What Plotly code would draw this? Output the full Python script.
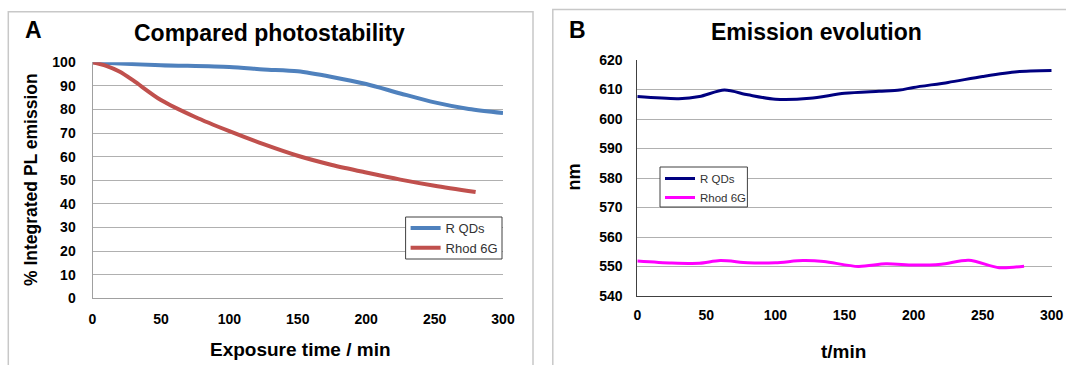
import plotly.graph_objects as go

# Panel A: compared photostability
a_time = [0, 20, 50, 100, 125, 150, 175, 200, 225, 250, 275, 300]
a_rqds = [100, 99.5, 98.8, 98.0, 97.0, 96.2, 93.8, 90.8, 86.8, 83.0, 80.2, 78.5]
r_time = [0, 10, 20, 30, 50, 75, 100, 125, 150, 175, 200, 225, 250, 280]
a_rhod = [100, 98.5, 96.0, 92.2, 84.0, 76.8, 70.8, 65.3, 60.4, 56.5, 53.3, 50.3, 47.7, 45.0]

# Panel B: emission evolution
b_time_q = [0, 30, 45, 63, 80, 100, 125, 150, 175, 190, 200, 225, 250, 275, 300]
b_rqds = [607.6, 606.9, 607.6, 609.8, 608.2, 606.7, 607.0, 608.7, 609.4, 609.8, 610.7, 612.4, 614.4, 616.0, 616.4]
b_time_r = [0, 25, 45, 60, 80, 100, 120, 135, 160, 180, 200, 220, 240, 262, 280]
b_rhod = [551.9, 551.2, 551.1, 552.0, 551.3, 551.3, 552.0, 551.7, 550.0, 550.9, 550.5, 550.8, 552.1, 549.6, 550.1]

a_yticks = list(range(0, 101, 10))
b_yticks = list(range(540, 621, 10))
x_ticks = list(range(0, 301, 50))

W, H = 1066, 365
def px(x): return x / W
def py(y): return (H - y) / H

FONT = "Arial, Liberation Sans, sans-serif"

fig = go.Figure()
fig.add_trace(go.Scatter(x=a_time, y=a_rqds, name="R QDs", mode="lines",
                         line=dict(color="#4F81BD", width=4, shape="spline", smoothing=0.8),
                         xaxis="x", yaxis="y", legend="legend"))
fig.add_trace(go.Scatter(x=r_time, y=a_rhod, name="Rhod 6G", mode="lines",
                         line=dict(color="#C0504D", width=4, shape="spline", smoothing=0.8),
                         xaxis="x", yaxis="y", legend="legend"))
fig.add_trace(go.Scatter(x=b_time_q, y=b_rqds, name="R QDs", mode="lines",
                         line=dict(color="#000080", width=3, shape="spline", smoothing=0.8),
                         xaxis="x2", yaxis="y2", legend="legend2"))
fig.add_trace(go.Scatter(x=b_time_r, y=b_rhod, name="Rhod 6G", mode="lines",
                         line=dict(color="#FF00FF", width=3, shape="spline", smoothing=0.8),
                         xaxis="x2", yaxis="y2", legend="legend2"))

tickfont = dict(family=FONT, size=14, color="#000000", weight="bold")
grid = "#b0b0b0"

common = dict(zeroline=False, showline=True, linewidth=1, tickfont=tickfont,
              fixedrange=True, automargin=False, ticks="")

fig.update_layout(
    width=W, height=H,
    margin=dict(l=0, r=0, t=0, b=0, autoexpand=False),
    paper_bgcolor="white", plot_bgcolor="white",
    font=dict(family=FONT, color="#000000"),
    showlegend=True,
    xaxis=dict(domain=[px(92.5), px(503)], range=[0, 300], tickvals=x_ticks,
               showgrid=False, linecolor="#a0a0a0", ticklabelstandoff=8, anchor="y", **common),
    yaxis=dict(domain=[py(298.3), py(62.3)], range=[0, 100], tickvals=a_yticks,
               showgrid=True, gridcolor=grid, gridwidth=1, linecolor="#a0a0a0",
               ticklabelstandoff=13, anchor="x", **common),
    xaxis2=dict(domain=[px(637.3), px(1051.7)], range=[0, 300], tickvals=x_ticks,
                showgrid=False, linecolor="#404040", ticklabelstandoff=6, anchor="y2", **common),
    yaxis2=dict(domain=[py(296), py(60)], range=[540, 620], tickvals=b_yticks,
                showgrid=True, gridcolor=grid, gridwidth=1, linecolor="#404040",
                ticklabelstandoff=11, anchor="x2", **common),
    legend=dict(x=px(405.6), y=py(213), xanchor="left", yanchor="top",
                bgcolor="rgba(0,0,0,0)", borderwidth=0,
                font=dict(family=FONT, size=13, color="#333333"),
                tracegroupgap=0),
    legend2=dict(x=px(660), y=py(164), xanchor="left", yanchor="top",
                 bgcolor="rgba(0,0,0,0)", borderwidth=0,
                 font=dict(family=FONT, size=11.5, color="#333333"),
                 tracegroupgap=0),
    shapes=[
        dict(type="rect", xref="paper", yref="paper", x0=px(8.3), x1=px(533), y0=py(400), y1=py(11.7),
             line=dict(color="#c8c8c8", width=1.5), fillcolor="rgba(0,0,0,0)", layer="below"),
        dict(type="rect", xref="paper", yref="paper", x0=px(552.8), x1=px(1120), y0=py(400), y1=py(9.5),
             line=dict(color="#c8c8c8", width=1.5), fillcolor="rgba(0,0,0,0)", layer="below"),
        # legend frames
        dict(type="rect", xref="paper", yref="paper", x0=px(405.6), x1=px(502), y0=py(259), y1=py(217),
             line=dict(color="#404040", width=1), fillcolor="white", layer="above"),
        dict(type="rect", xref="paper", yref="paper", x0=px(660), x1=px(747.4), y0=py(207), y1=py(167),
             line=dict(color="#404040", width=1), fillcolor="white", layer="above"),
    ],
)

def ann(text, x, y, size, angle=0):
    fig.add_annotation(text=text, x=px(x), y=py(y), xref="paper", yref="paper",
                       showarrow=False, xanchor="center", yanchor="middle",
                       textangle=angle, font=dict(family=FONT, size=size, color="#000000"))

ann("<b>A</b>", 33.5, 30, 23)
ann("<b>Compared photostability</b>", 269, 33, 23)
ann("<b>% Integrated PL emission</b>", 31, 180, 17.5, -90)
ann("<b>Exposure time / min</b>", 300, 349, 19)
ann("<b>B</b>", 577, 30, 23)
ann("<b>Emission evolution</b>", 816, 32, 23)
ann("<b>nm</b>", 573.5, 177, 18, -90)
ann("<b>t/min</b>", 843.7, 351, 19)

fig.write_html(
    "out.html",
    config={"displayModeBar": False},
    post_script="document.body.style.margin='0';document.body.style.padding='0';"
                "document.documentElement.style.overflow='hidden';",
)
